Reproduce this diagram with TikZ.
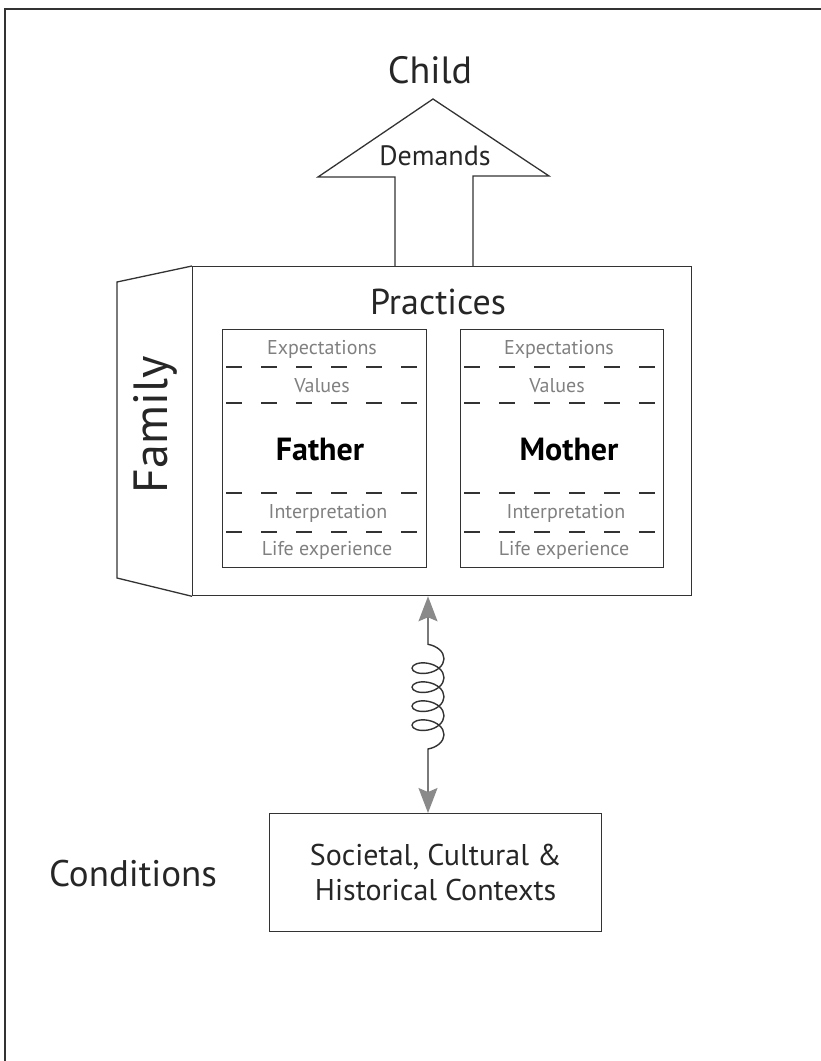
\documentclass[tikz,border=0pt]{standalone}
\usepackage{fontspec}
\setmainfont{PT Sans}
\usetikzlibrary{arrows.meta, decorations.pathmorphing, calc}
\definecolor{ink}{HTML}{333333}
\definecolor{softgray}{HTML}{808080}
\definecolor{tipgray}{HTML}{8A8A8A}

\begin{document}
\begin{tikzpicture}[x=1pt, y=-1pt,
  outline/.style={draw=ink, line width=1.3pt},
  panel/.style={outline, inner sep=0pt, anchor=north west},
  sepline/.style={draw=ink, line width=1.2pt, dash pattern=on 16pt off 19pt, dash phase=31pt},
  layer/.style={text=softgray, font=\fontsize{20}{22}\selectfont, inner sep=0pt},
  parent/.style={text=black, font=\bfseries\fontsize{32}{34}\selectfont, inner sep=0pt},
  biglabel/.style={text=black!85, inner sep=0pt},
  linktip/.tip={Stealth[length=25pt, width=19pt, inset=4pt, color=tipgray]},
]
\useasboundingbox (0,0) rectangle (821,1061);

% open frame along top and left
\draw[line width=2pt, draw=ink] (5,1061) -- (5,9) -- (821,9);

% family block: front face and slanted side face
\node[panel, minimum width=499pt, minimum height=329pt] (practices) at (192,266) {};
\draw[outline] (practices.north west) -- (117,282) -- (117,578) -- (practices.south west);
\node[biglabel, rotate=90, font=\fontsize{48}{50}\selectfont] (family) at (155,425) {Family};
\node[biglabel, font=\fontsize{36}{38}\selectfont] (practiceslabel) at (438,302) {Practices};

% demand arrow pointing up to the child
\draw[outline, line join=miter]
  (395,266) -- (395,177) -- (318,177) -- (433,99) -- (549,176) -- (473,176) -- (473,266);
\node[biglabel, font=\fontsize{28}{30}\selectfont] (demands) at (435,156) {Demands};
\node[biglabel, font=\fontsize{38}{40}\selectfont] (child) at (430,70) {Child};

% parent panels
\node[panel, minimum width=204pt, minimum height=238pt] (father) at (222,329) {};
\node[panel, minimum width=203pt, minimum height=238pt] (mother) at (460,329) {};
\foreach \p in {father, mother} {
  \foreach \yy in {367, 403, 493, 532} {
    \draw[sepline] (\p.west |- 0,\yy) -- (\p.east |- 0,\yy);
  }
}

\node[layer] (fexp) at (322,349) {Expectations};
\node[layer] (fval) at (322,386) {Values};
\node[parent] (fname) at (320,450) {Father};
\node[layer] (fint) at (328,513) {Interpretation};
\node[layer] (flife) at (327,550) {Life experience};

\node[layer] (mexp) at (559,349) {Expectations};
\node[layer] (mval) at (557,386) {Values};
\node[parent] (mname) at (569,450) {Mother};
\node[layer] (mint) at (566,513) {Interpretation};
\node[layer] (mlife) at (564,550) {Life experience};

% societal conditions
\node[panel, minimum width=332pt, minimum height=118pt] (cond) at (269,813) {};
\node[biglabel, align=center, font=\fontsize{30}{35}\selectfont] (condtext) at (cond.center) {Societal, Cultural \&\\Historical Contexts};
\node[biglabel, font=\fontsize{37}{39}\selectfont] (condlabel) at (133,874) {Conditions};

% coiled two-way link between family and conditions
\coordinate (linkx) at (428,0);
\draw[draw=ink, line width=1.4pt, {linktip}-{linktip},
  decorate, decoration={coil, amplitude=16pt, segment length=19pt, aspect=0.6, pre length=48pt, post length=54pt}]
  (practices.south -| linkx) -- (cond.north -| linkx);
\end{tikzpicture}
\end{document}
